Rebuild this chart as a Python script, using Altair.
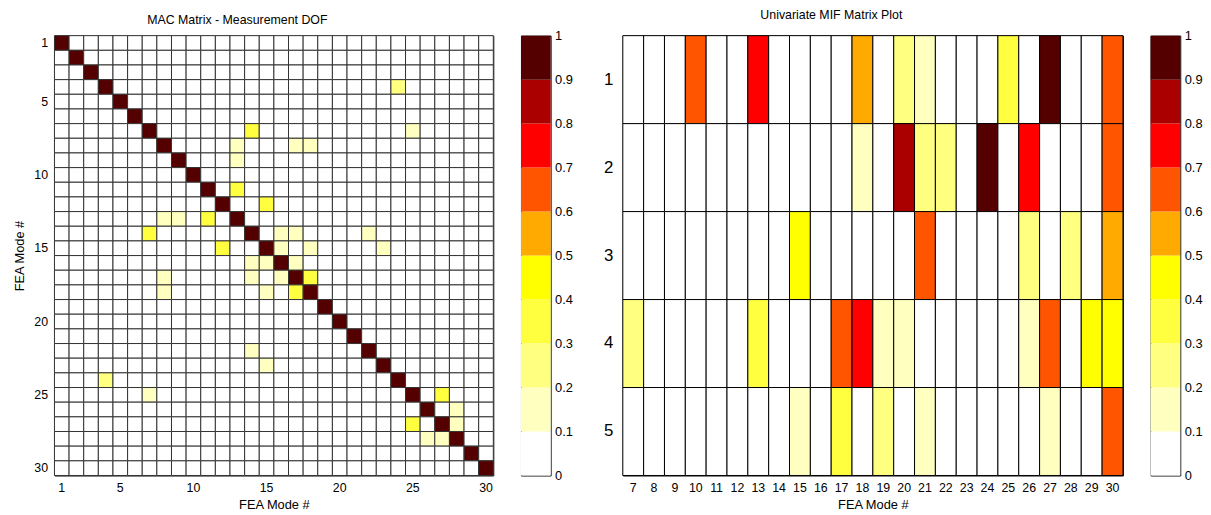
import altair as alt
import pandas as pd

FONT = "Liberation Sans"

# ---- colour bands (MATLAB "hot", flipped, 10 levels) ----
band_lo = [0.0, 0.1, 0.2, 0.3, 0.4, 0.5, 0.6, 0.7, 0.8, 0.9]
band_hi = [0.1, 0.2, 0.3, 0.4, 0.5, 0.6, 0.7, 0.8, 0.9, 1.0]
hot_colors = ["#FFFFFF", "#FFFFC0", "#FFFF80", "#FFFF40", "#FFFF00",
              "#FFAA00", "#FF5500", "#FF0000", "#AA0000", "#550000"]
thresholds = [0.1, 0.2, 0.3, 0.4, 0.5, 0.6, 0.7, 0.8, 0.9]
cbar_ticks = [0, 0.1, 0.2, 0.3, 0.4, 0.5, 0.6, 0.7, 0.8, 0.9, 1.0]

# ---- MAC matrix (30 x 30) ----
mac_modes = list(range(1, 31))
mac_diag = [1.0, 1.0, 1.0, 1.0, 1.0, 1.0, 1.0, 1.0, 1.0, 1.0,
            1.0, 1.0, 1.0, 1.0, 1.0, 1.0, 1.0, 1.0, 1.0, 1.0,
            1.0, 1.0, 1.0, 1.0, 1.0, 1.0, 1.0, 1.0, 1.0, 1.0]
mac_off_row = [4, 24, 7, 14, 7, 25, 8, 13, 8, 17, 8, 18, 9, 13, 11, 13, 12, 15,
               14, 16, 14, 17, 14, 22, 15, 16, 15, 18, 15, 23, 16, 17, 17, 18,
               25, 27, 26, 28, 27, 28]
mac_off_col = [24, 4, 14, 7, 25, 7, 13, 8, 17, 8, 18, 8, 13, 9, 13, 11, 15, 12,
               16, 14, 17, 14, 22, 14, 16, 15, 18, 15, 23, 15, 17, 16, 18, 17,
               27, 25, 28, 26, 28, 27]
mac_off_val = [0.25, 0.25, 0.35, 0.35, 0.15, 0.15, 0.15, 0.15, 0.15, 0.15, 0.15, 0.15,
               0.15, 0.15, 0.35, 0.35, 0.35, 0.38,
               0.15, 0.15, 0.15, 0.15, 0.15, 0.15, 0.15, 0.15, 0.15, 0.15, 0.15, 0.15,
               0.15, 0.15, 0.35, 0.35,
               0.35, 0.35, 0.15, 0.15, 0.15, 0.15]
mac_ticks = [1, 5, 10, 15, 20, 25, 30]

# ---- Univariate MIF matrix (5 rows x FEA modes 7..30) ----
mif_modes = [7, 8, 9, 10, 11, 12, 13, 14, 15, 16, 17, 18, 19, 20, 21, 22, 23, 24,
             25, 26, 27, 28, 29, 30]
mif_rows = [1, 2, 3, 4, 5]
mif_row1 = [0, 0, 0, 0.65, 0, 0, 0.75, 0, 0, 0, 0, 0.55, 0, 0.25, 0.15, 0, 0, 0,
            0.35, 0, 0.95, 0, 0, 0.65]
mif_row2 = [0, 0, 0, 0, 0, 0, 0, 0, 0, 0, 0, 0.15, 0, 0.85, 0.25, 0.25, 0, 0.95,
            0, 0.75, 0, 0, 0, 0.65]
mif_row3 = [0, 0, 0, 0, 0, 0, 0, 0, 0.45, 0, 0, 0, 0, 0, 0.65, 0, 0, 0,
            0, 0.25, 0, 0.25, 0, 0.55]
mif_row4 = [0.25, 0, 0, 0, 0, 0, 0.35, 0, 0, 0, 0.65, 0.75, 0.15, 0.15, 0, 0, 0, 0,
            0, 0.15, 0.65, 0, 0.45, 0.45]
mif_row5 = [0, 0, 0, 0, 0, 0, 0, 0, 0.15, 0, 0.35, 0, 0.25, 0, 0.15, 0, 0, 0,
            0, 0, 0.15, 0, 0, 0.65]

# ---- build tables ----
mac_vals = {}
for i, m in enumerate(mac_modes):
    mac_vals[(m, m)] = mac_diag[i]
for r, c, v in zip(mac_off_row, mac_off_col, mac_off_val):
    mac_vals[(r, c)] = v
mac_df = pd.DataFrame([
    {"row": r, "col": c, "val": mac_vals.get((r, c), 0.0)}
    for r in mac_modes for c in mac_modes
])

mif_data = [mif_row1, mif_row2, mif_row3, mif_row4, mif_row5]
mif_df = pd.DataFrame([
    {"row": r, "col": m, "val": mif_data[i][j]}
    for i, r in enumerate(mif_rows) for j, m in enumerate(mif_modes)
])

cb_df = pd.DataFrame({"lo": band_lo, "hi": band_hi})

color_scale = alt.Scale(type="threshold", domain=thresholds, range=hot_colors)

H = 445

mac = alt.Chart(mac_df).mark_rect(stroke="#333333", strokeWidth=1).encode(
    x=alt.X("col:O", scale=alt.Scale(paddingInner=0, paddingOuter=0),
            axis=alt.Axis(values=mac_ticks, labelAngle=0, title="FEA Mode #",
                          ticks=False, domain=False, labelFontSize=12.5,
                          titleFontSize=13, titleFontWeight="normal",
                          labelPadding=6, titlePadding=5)),
    y=alt.Y("row:O", scale=alt.Scale(paddingInner=0, paddingOuter=0),
            axis=alt.Axis(values=mac_ticks, title="FEA Mode #", ticks=False,
                          domain=False, labelFontSize=12.5, titleFontSize=13,
                          titleFontWeight="normal", labelPadding=7,
                          titlePadding=7)),
    color=alt.Color("val:Q", scale=color_scale, legend=None),
).properties(width=444, height=H,
             title=alt.TitleParams("MAC Matrix - Measurement DOF", fontSize=12.5,
                                   fontWeight="normal", dx=-37, offset=9))


def colorbar():
    return alt.Chart(cb_df).mark_rect().encode(
        y=alt.Y("lo:Q", scale=alt.Scale(domain=[0, 1], nice=False, zero=False),
                axis=alt.Axis(orient="right", values=cbar_ticks, format=".1~f",
                              title=None, grid=False, domain=False, ticks=False,
                              labelFontSize=13, labelPadding=4)),
        y2="hi:Q",
        color=alt.Color("lo:Q", scale=color_scale, legend=None),
    ).properties(width=30, height=H)


mif = alt.Chart(mif_df).mark_rect(stroke="#000000", strokeWidth=1).encode(
    x=alt.X("col:O", scale=alt.Scale(paddingInner=0, paddingOuter=0),
            axis=alt.Axis(labelAngle=0, title="FEA Mode #", ticks=False,
                          domain=False, labelFontSize=12.5, titleFontSize=13,
                          titleFontWeight="normal", labelPadding=6,
                          titlePadding=5)),
    y=alt.Y("row:O", scale=alt.Scale(paddingInner=0, paddingOuter=0),
            axis=alt.Axis(title=None, ticks=False, domain=False,
                          labelFontSize=17, labelPadding=10)),
    color=alt.Color("val:Q", scale=color_scale, legend=None),
).properties(width=506, height=H,
             title=alt.TitleParams("Univariate MIF Matrix Plot", fontSize=12.5,
                                   fontWeight="normal", dx=-42, offset=14))

left = alt.hconcat(mac, colorbar(), spacing=25)
right = alt.hconcat(mif, colorbar(), spacing=26)

chart = alt.hconcat(left, right, spacing=30).properties(
    padding={"left": 5, "top": -3, "right": 0, "bottom": 0}
).configure(font=FONT).configure_view(stroke="#000000", strokeWidth=1).configure_axis(
    labelColor="#000000", titleColor="#000000", labelFont=FONT, titleFont=FONT
).configure_title(color="#000000", font=FONT)

chart.save("out.html", embed_options={"renderer": "svg", "actions": False})
